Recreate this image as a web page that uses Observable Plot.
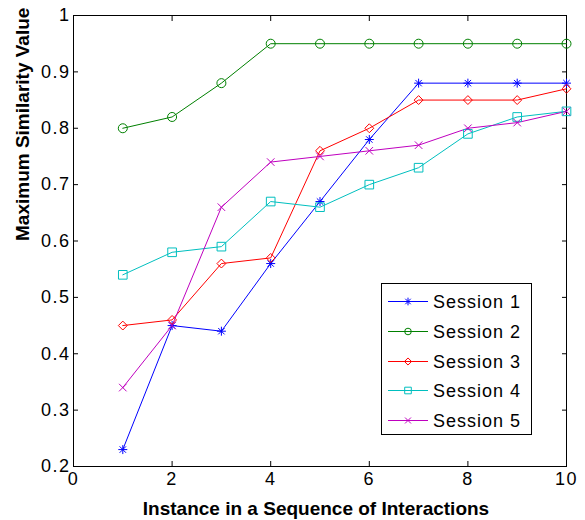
<!DOCTYPE html>
<html><head><meta charset="utf-8">
<script src="https://cdn.jsdelivr.net/npm/d3@7"></script>
<script src="https://cdn.jsdelivr.net/npm/@observablehq/plot@0.6"></script>
<style>
html,body{margin:0;padding:0;background:#fff;}
#chart svg{display:block}
g[aria-label="x-axis tick label"] text, g[aria-label="y-axis tick label"] text {letter-spacing:1.5px;}
</style></head><body><div id="chart"></div>
<script>
const instances = [1, 2, 3, 4, 5, 6, 7, 8, 9, 10];
const sessionNames = ["Session 1", "Session 2", "Session 3", "Session 4", "Session 5"];
const session1 = [0.23, 0.45, 0.44, 0.56, 0.67, 0.78, 0.88, 0.88, 0.88, 0.88];
const session2 = [0.80, 0.82, 0.88, 0.95, 0.95, 0.95, 0.95, 0.95, 0.95, 0.95];
const session3 = [0.45, 0.46, 0.56, 0.57, 0.76, 0.80, 0.85, 0.85, 0.85, 0.87];
const session4 = [0.54, 0.58, 0.59, 0.67, 0.66, 0.70, 0.73, 0.79, 0.82, 0.83];
const session5 = [0.34, 0.45, 0.66, 0.74, 0.75, 0.76, 0.77, 0.80, 0.81, 0.83];
const xTicks = [0, 2, 4, 6, 8, 10];
const yTicks = [0.2, 0.3, 0.4, 0.5, 0.6, 0.7, 0.8, 0.9, 1];
const xLabel = "Instance in a Sequence of Interactions";
const yLabel = "Maximum Similarity Value";

// styles
const colors = ["#0000ff", "#008000", "#ff0000", "#00bfbf", "#bf00bf"];
const symbols = ["plus", "circle", "diamond2", "square2", "times"];
const symbolSizes = [3, 4.5, 4, 5.5, 3.5];
const d3Symbols = [d3.symbolPlus, d3.symbolCircle, d3.symbolDiamond2, d3.symbolSquare2, d3.symbolTimes];
const legendSizes = [2.6, 3.3, 3.2, 4.2, 2.8];

const seriesValues = [session1, session2, session3, session4, session5];
const rows = sessionNames.flatMap((name, i) => instances.map((x, j) => ({session: name, x, y: seriesValues[i][j]})));
const fmtY = d => String(+d.toFixed(1));
const blank = () => "";

const marks = [
  Plot.axisX({anchor: "bottom", ticks: xTicks, tickSize: -5, tickPadding: 11, label: null}),
  Plot.axisX({anchor: "top", ticks: xTicks, tickSize: -5, tickFormat: blank, label: null}),
  Plot.axisY({anchor: "left", ticks: yTicks, tickSize: -5, tickPadding: 8, tickFormat: fmtY, label: null}),
  Plot.axisY({anchor: "right", ticks: yTicks, tickSize: -5, tickFormat: blank, label: null}),
  Plot.frame({stroke: "#000"}),
  Plot.line(rows, {x: "x", y: "y", z: "session", stroke: "session", strokeWidth: 1})
];
sessionNames.forEach((name, i) => {
  const sub = rows.filter(d => d.session === name);
  marks.push(Plot.dot(sub, {x: "x", y: "y", stroke: colors[i], symbol: symbols[i], r: symbolSizes[i], fill: "none", strokeWidth: 1}));
  if (i === 0) marks.push(Plot.dot(sub, {x: "x", y: "y", stroke: colors[i], symbol: "times", r: symbolSizes[i], fill: "none", strokeWidth: 1}));
});
marks.push(Plot.text([xLabel], {frameAnchor: "bottom", text: d => d, dy: 42, dx: -4, fontSize: 19, fontWeight: "bold", lineAnchor: "middle", fill: "#000"}));
marks.push(Plot.text([yLabel], {frameAnchor: "left", text: d => d, dx: -51, rotate: -90, fontSize: 19, fontWeight: "bold", lineAnchor: "middle", fill: "#000"}));

const plot = Plot.plot({
  width: 585, height: 520,
  marginLeft: 73, marginRight: 19, marginTop: 15, marginBottom: 54,
  style: {fontFamily: "'Liberation Sans', Arial, sans-serif", fontSize: "18px", background: "#fff", color: "#000"},
  x: {domain: [0, 10]},
  y: {domain: [0.2, 1]},
  color: {domain: sessionNames, range: colors},
  marks
});

// legend box (MATLAB style)
const svg = d3.select(plot);
const lg = svg.append("g");
lg.append("rect").attr("x", 381.5).attr("y", 283.5).attr("width", 150).attr("height", 151)
  .attr("fill", "#fff").attr("stroke", "#000");
sessionNames.forEach((name, i) => {
  const y = Math.round(301 + i * 29.8) + 0.5;
  const s = Math.PI * legendSizes[i] * legendSizes[i];
  lg.append("line").attr("x1", 388).attr("x2", 428).attr("y1", y).attr("y2", y).attr("stroke", colors[i]).attr("stroke-width", 1);
  lg.append("path").attr("transform", `translate(408,${y})`).attr("d", d3.symbol(d3Symbols[i], s)())
    .attr("fill", "none").attr("stroke", colors[i]);
  if (i === 0) lg.append("path").attr("transform", `translate(408,${y})`).attr("d", d3.symbol(d3.symbolTimes, s)())
    .attr("fill", "none").attr("stroke", colors[i]);
  lg.append("text").attr("x", 433).attr("y", y).attr("dy", "0.35em").attr("font-size", 18)
    .attr("text-anchor", "start").attr("letter-spacing", "1px").attr("fill", "#000").text(name);
});

document.getElementById("chart").appendChild(plot);
</script></body></html>
